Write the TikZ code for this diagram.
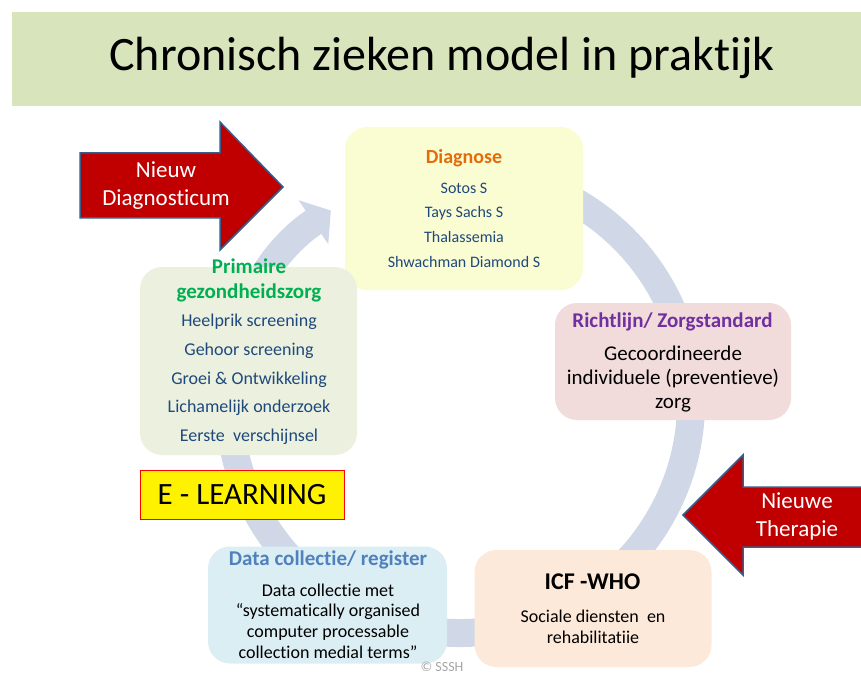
\documentclass[tikz,border=0pt]{standalone}
\usepackage{fontspec}
\setmainfont{Carlito}[Ligatures={NoCommon}]
\usetikzlibrary{arrows.meta,positioning}
\definecolor{bandgreen}{RGB}{216,228,188}
\definecolor{ringblue}{RGB}{208,216,232}
\definecolor{diagfill}{RGB}{250,252,210}
\definecolor{primfill}{RGB}{235,241,222}
\definecolor{richtfill}{RGB}{242,220,219}
\definecolor{datafill}{RGB}{219,238,244}
\definecolor{icffill}{RGB}{253,233,217}
\definecolor{orangetitle}{RGB}{228,108,10}
\definecolor{greentitle}{RGB}{0,176,80}
\definecolor{purpletitle}{RGB}{112,48,160}
\definecolor{bluetitle}{RGB}{79,129,189}
\definecolor{itemblue}{RGB}{31,73,125}
\definecolor{arrowred}{RGB}{192,0,0}
\definecolor{arrowedge}{RGB}{56,93,138}

\begin{document}
\begin{tikzpicture}[x=1pt,y=1pt,every node/.style={inner sep=0pt,align=center}]
  \tikzstyle{card} = [rounded corners=22pt];
  \tikzstyle{cardtitle} = [font=\bfseries\fontsize{21}{25}\selectfont];
  \tikzstyle{redarrow} = [fill=arrowred,draw=arrowedge,line width=1.5pt];
  \tikzset{ring/.style={draw=ringblue,line width=28pt,-{Triangle[length=21pt,width=52pt]}}};
  \tikzset{arrowtext/.style={text=white,font=\fontsize{23}{28}\selectfont}};
  \useasboundingbox (0,0) rectangle (861,673);
  \clip (0,0) rectangle (861,673);
  % title band
  \node[fill=bandgreen,anchor=north west,minimum width=860pt,minimum height=94pt] (band) at (12,661) {};
  \node[font=\fontsize{48}{56}\selectfont] (title) at (442,615) {Chronisch zieken model in praktijk};
  % cycle
  \coordinate (hub) at (460,271);
  \draw[ring] (hub) ++(105:231) arc[start angle=105,end angle=-236,radius=231];
  % Diagnose
  \node[card,fill=diagfill,minimum width=238pt,minimum height=163pt] (diag) at (464,464.5) {};
  \node[cardtitle,text=orangetitle,font=\bfseries\fontsize{20}{24}\selectfont] (diagtitle) at (464,515) {Diagnose};
  \node[text=itemblue,font=\fontsize{16}{24.7}\selectfont] (diaglist) at (464,448)
    {Sotos S\\Tays Sachs S\\Thalassemia\\Shwachman Diamond S};
  % Primaire gezondheidszorg
  \node[card,fill=primfill,minimum width=217pt,minimum height=188pt] (prim) at (248.5,312) {};
  \node[cardtitle,text=greentitle] (primtitle) at (249,392.5) {Primaire\\gezondheidszorg};
  \node[text=itemblue,font=\fontsize{18}{28.7}\selectfont] (primlist) at (249,293.5)
    {Heelprik screening\\Gehoor screening\\Groei \& Ontwikkeling\\Lichamelijk onderzoek\\Eerste\ \ verschijnsel};
  % Richtlijn
  \node[card,fill=richtfill,minimum width=236pt,minimum height=117pt] (richt) at (673,311.5) {};
  \node[cardtitle,text=purpletitle] (richttitle) at (672.5,351) {Richtlijn/ Zorgstandard};
  \node[font=\fontsize{21}{24}\selectfont] (richtbody) at (673,294)
    {Gecoordineerde\\individuele (preventieve)\\zorg};
  % Data collectie
  \node[card,fill=datafill,minimum width=239pt,minimum height=117pt] (data) at (327.5,68) {};
  \node[cardtitle,text=bluetitle] (datatitle) at (328,113) {Data collectie/ register};
  \node[font=\fontsize{18}{20.7}\selectfont] (databody) at (328,52)
    {Data collectie met\\“systematically organised\\computer processable\\collection medial terms”};
  % ICF
  \node[card,fill=icffill,minimum width=237pt,minimum height=117pt] (icf) at (593,64.5) {};
  \node[cardtitle,font=\bfseries\fontsize{24}{28}\selectfont] (icftitle) at (592.5,91) {ICF -WHO};
  \node[font=\fontsize{18}{21}\selectfont] (icfbody) at (593,46.5) {Sociale diensten\ \ en\\rehabilitatiie};
  % E-learning
  \node[fill=yellow,draw=red,line width=0.8pt,minimum width=204pt,minimum height=49pt,
    font=\fontsize{31}{36}\selectfont] (elearn) at (242,178.5) {E - LEARNING};
  % new input arrows
  \draw[redarrow] (80,520) -- (220,520) -- (220,551) -- (283,486) -- (220,423) -- (220,455) -- (80,455) -- cycle;
  \node[arrowtext] (newdiag) at (166,487) {Nieuw\\Diagnosticum};
  \draw[redarrow] (870,186) -- (743,186) -- (743,218) -- (683,158) -- (743,98) -- (743,126) -- (870,126) -- cycle;
  \node[arrowtext] (newther) at (797,157) {Nieuwe\\Therapie};
  \node[text=gray!70,font=\fontsize{14}{16}\selectfont,anchor=north] (copy) at (442,11.5) {© SSSH};
\end{tikzpicture}
\end{document}
